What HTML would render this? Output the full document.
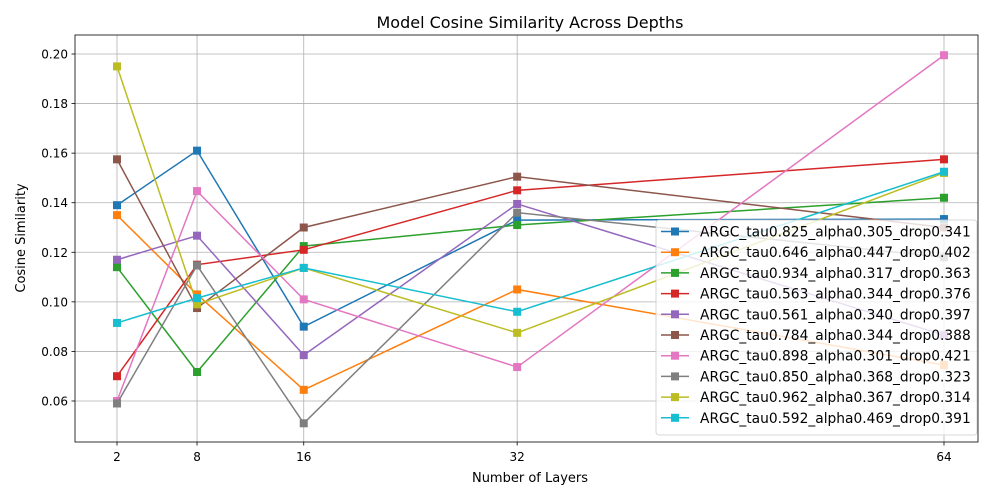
<!DOCTYPE html>
<html><head><meta charset="utf-8"><style>
body{margin:0;background:#fff;}
svg{display:block;font-family:"DejaVu Sans","Liberation Sans",sans-serif;}
</style></head><body>
<svg id="chart" width="1000" height="500" viewBox="0 0 1000 500">
<rect width="1000" height="500" fill="#fff"/>
<g id="grid"></g>
<g id="series"></g>
<rect x="75" y="35" width="903" height="407" fill="none" stroke="#000" stroke-width="0.8"/>
<g id="ticks"></g>
<text x="530" y="28" text-anchor="middle" font-size="16">Model Cosine Similarity Across Depths</text>
<text x="530" y="482" text-anchor="middle" font-size="13">Number of Layers</text>
<text transform="translate(25,238) rotate(-90)" text-anchor="middle" font-size="13">Cosine Similarity</text>
<g id="legend"></g>
</svg>
<script>
const categories=[2,8,16,32,64];
const yTicks=[0.06,0.08,0.10,0.12,0.14,0.16,0.18,0.20];
const seriesNames=["ARGC_tau0.825_alpha0.305_drop0.341","ARGC_tau0.646_alpha0.447_drop0.402","ARGC_tau0.934_alpha0.317_drop0.363","ARGC_tau0.563_alpha0.344_drop0.376","ARGC_tau0.561_alpha0.340_drop0.397","ARGC_tau0.784_alpha0.344_drop0.388","ARGC_tau0.898_alpha0.301_drop0.421","ARGC_tau0.850_alpha0.368_drop0.323","ARGC_tau0.962_alpha0.367_drop0.314","ARGC_tau0.592_alpha0.469_drop0.391"];
const s0=[0.139,0.161,0.090,0.133,0.1334];
const s1=[0.135,0.103,0.0645,0.105,0.0745];
const s2=[0.114,0.0717,0.1225,0.131,0.142];
const s3=[0.070,0.115,0.121,0.145,0.1575];
const s4=[0.117,0.1267,0.0785,0.1395,0.0866];
const s5=[0.1575,0.0975,0.130,0.1505,0.130];
const s6=[0.060,0.1447,0.101,0.0737,0.1995];
const s7=[0.059,0.1147,0.051,0.136,0.118];
const s8=[0.195,0.099,0.1137,0.0875,0.152];
const s9=[0.0915,0.1015,0.1137,0.096,0.1525];
const allSeries=[s0,s1,s2,s3,s4,s5,s6,s7,s8,s9];
const colors=["#1f77b4","#ff7f0e","#2ca02c","#d62728","#9467bd","#8c564b","#e377c2","#7f7f7f","#bcbd22","#17becf"];
const NS="http://www.w3.org/2000/svg";
const xs=v=>117+(v-2)*(944-117)/62;
const ys=v=>401-(v-0.06)*(401-54)/0.14;
function mk(tag,attrs,parent){const e=document.createElementNS(NS,tag);for(const k in attrs)e.setAttribute(k,attrs[k]);parent.appendChild(e);return e;}
const grid=document.getElementById('grid'),ticks=document.getElementById('ticks'),ser=document.getElementById('series'),leg=document.getElementById('legend');
categories.forEach(c=>{
 const l=mk('line',{x1:xs(c),x2:xs(c),y1:35,y2:442,stroke:'#b0b0b0','stroke-width':0.8},grid);
 
 
 const t=mk('line',{x1:xs(c),x2:xs(c),y1:442,y2:445.5,stroke:'#000','stroke-width':0.8},ticks);
 
 
 const tx=mk('text',{x:xs(c),y:461,'text-anchor':'middle','font-size':12},ticks);
 tx.textContent=c;
 
 
});
yTicks.forEach(v=>{
 const l=mk('line',{x1:75,x2:978,y1:ys(v),y2:ys(v),stroke:'#b0b0b0','stroke-width':0.8},grid);
 
 
 const t=mk('line',{x1:71.5,x2:75,y1:ys(v),y2:ys(v),stroke:'#000','stroke-width':0.8},ticks);
 
 
 const tx=mk('text',{x:68,y:ys(v)+4.5,'text-anchor':'end','font-size':12},ticks);
 tx.textContent=v.toFixed(2);
 
 
});
allSeries.forEach((s,i)=>{
 const g=mk('g',{},ser);
 
 
 const p=mk('polyline',{points:s.map((v,j)=>xs(categories[j])+','+ys(v)).join(' '),fill:'none',stroke:colors[i],'stroke-width':1.5},g);
 
 
 s.forEach((v,j)=>{
  const m=mk('rect',{x:xs(categories[j])-4,y:ys(v)-4,width:8,height:8,fill:colors[i]},g);
  
  
 });
});
const lb=mk('rect',{x:656,y:220,width:321,height:215,rx:3,fill:'#fff','fill-opacity':0.8,stroke:'#ccc','stroke-width':0.8},leg);


seriesNames.forEach((n,i)=>{
 const y=231.5+i*20.7;
 const g=mk('g',{},leg);
 
 
 mk('line',{x1:661,x2:689,y1:y,y2:y,stroke:colors[i],'stroke-width':1.5},g);
 mk('rect',{x:671,y:y-4,width:8,height:8,fill:colors[i]},g);
 const t=mk('text',{x:700,y:y+5,'font-size':13.8},g);
 t.textContent=n;
});
</script>
</body></html>
